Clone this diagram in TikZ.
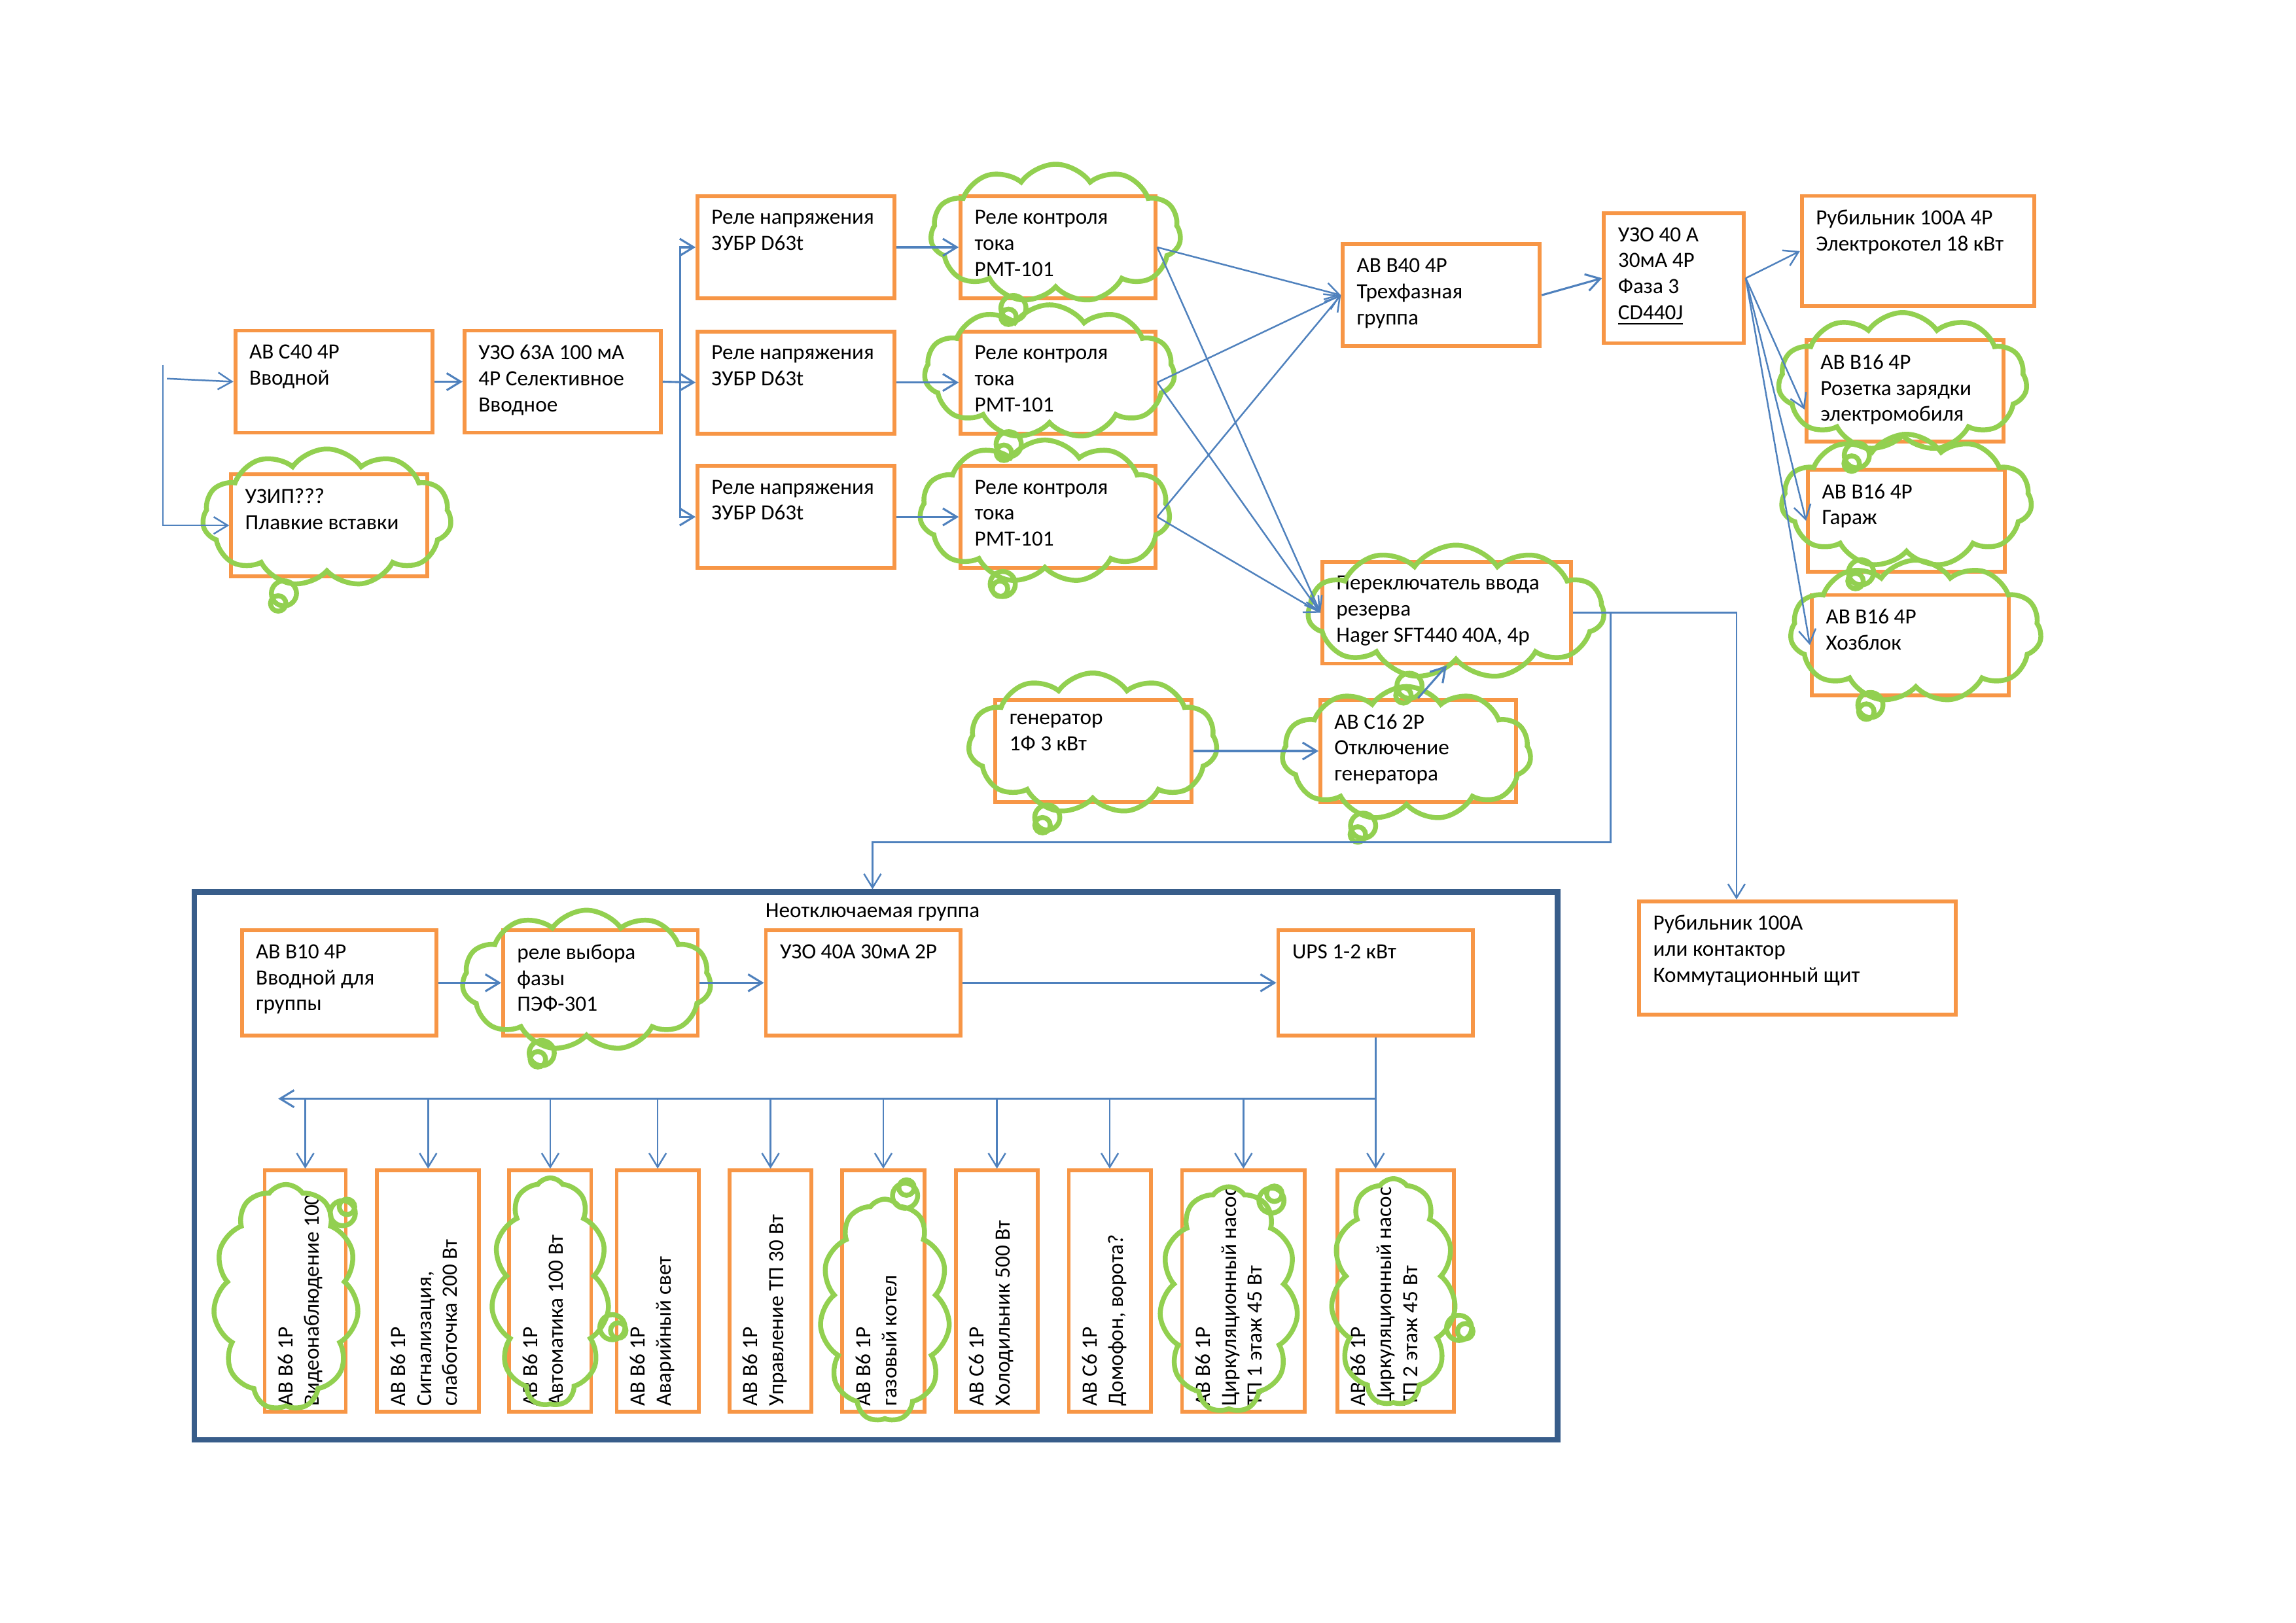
\documentclass[tikz,border=0pt]{standalone}
\usepackage{fontspec}
\setmainfont{Carlito}
\usepackage{tikz}
\usetikzlibrary{shapes,shapes.callouts,arrows.meta,calc,positioning}
\definecolor{boxorange}{HTML}{F79646}
\definecolor{cloudgreen}{HTML}{92D050}
\definecolor{linkblue}{HTML}{4F81BD}
\definecolor{frameblue}{HTML}{385D8A}

\begin{document}
\begin{tikzpicture}[]
	\tikzset{txt/.style={anchor=north west, align=left, inner xsep=0.2cm, inner ysep=0.2cm, execute at begin node={\rule{0pt}{5.2pt}}, font=\fontsize{8}{9.6}\selectfont}}
	\tikzset{tb/.style={label={[txt]north west:{#1}}}}
	\tikzset{rtb/.style={label={[txt, rotate=90, inner xsep=0.09cm, inner ysep=0.19cm]south west:{#1}}}}
	\tikzstyle{box} = [draw=boxorange, line width=1.4pt, minimum width=2.55cm, minimum height=1.32cm]
	\tikzstyle{slot} = [box, minimum width=1.06cm, minimum height=3.12cm]
	\tikzstyle{puff} = [cloud callout, draw=cloudgreen, line width=1.8pt, cloud puffs=11, cloud puff arc=110, cloud ignores aspect, callout pointer segments=2, callout pointer start size=0.45cm, callout pointer end size=0.2cm]
	\tikzstyle{link} = [draw=linkblue, line width=0.75pt, -{Straight Barb[length=1.8mm,width=2.2mm]}]
	\tikzstyle{thin} = [link, line width=0.6pt]
	\useasboundingbox (0,0) rectangle (29.71,-21.0);
		% Input
		\node[box, tb={АВ С40 4Р\\Вводной}] (avc40) at (4.32,-4.94) {};
		\node[box, minimum width=2.54cm, tb={УЗО 63А 100 мА\\4Р Селективное\\Вводное}] (uzo63) at (7.28,-4.94) {};
		\node[box, minimum width=2.54cm, tb={УЗИП???\\Плавкие вставки}] (uzip) at (4.26,-6.80) {};
		% Voltage relays
		\node[box, tb={Реле напряжения\\ЗУБР D63t}] (rn1) at (10.30,-3.20) {};
		\node[box, tb={Реле напряжения\\ЗУБР D63t}] (rn2) at (10.30,-4.95) {};
		\node[box, tb={Реле напряжения\\ЗУБР D63t}] (rn3) at (10.30,-6.69) {};
		% Current relays
		\node[box, minimum width=2.52cm, tb={Реле контроля\\тока\\РМТ-101}] (rk1) at (13.69,-3.20) {};
		\node[box, minimum width=2.52cm, tb={Реле контроля\\тока\\РМТ-101}] (rk2) at (13.69,-4.95) {};
		\node[box, minimum width=2.52cm, tb={Реле контроля\\тока\\РМТ-101}] (rk3) at (13.69,-6.69) {};
		% Three-phase group
		\node[box, tb={АВ В40 4Р\\Трехфазная\\группа}] (avb40) at (18.65,-3.82) {};
		\node[box, minimum width=1.81cm, minimum height=1.68cm, tb={УЗО 40 А\\30мА 4Р\\Фаза 3\\\underline{CD440J}}] (uzo40) at (21.66,-3.60) {};
		\node[box, minimum width=3.01cm, minimum height=1.43cm, tb={Рубильник 100А 4Р\\Электрокотел 18 кВт}] (rub100) at (24.82,-3.25) {};
		\node[box, minimum height=1.31cm, tb={АВ В16 4Р\\Розетка зарядки\\электромобиля}] (avb16a) at (24.65,-5.06) {};
		\node[box, tb={АВ В16 4Р\\Гараж}] (avb16b) at (24.67,-6.74) {};
		\node[box, minimum height=1.30cm, tb={АВ В16 4Р\\Хозблок}] (avb16c) at (24.72,-8.35) {};
		% Reserve
		\node[box, minimum width=3.22cm, tb={Переключатель ввода\\резерва\\Hager SFT440 40A, 4p}] (perekl) at (18.72,-7.93) {};
		\node[box, minimum width=2.54cm, tb={генератор\\1Ф 3 кВт}] (gen) at (14.15,-9.72) {};
		\node[box, minimum width=2.53cm, tb={АВ С16 2Р\\Отключение\\генератора}] (avc16) at (18.35,-9.72) {};
		\node[box, minimum width=4.10cm, minimum height=1.47cm, tb={Рубильник 100А\\или контактор\\Коммутационный щит}] (komm) at (23.26,-12.40) {};
		% Uninterruptible group
		\node[draw=frameblue, line width=2pt, minimum width=17.64cm, minimum height=7.09cm] (grp) at (11.335,-15.09) {};
		\node[font=\fontsize{8}{9.6}\selectfont] (grptitle) at (11.29,-11.81) {Неотключаемая группа};
		\node[box, minimum width=2.52cm, minimum height=1.36cm, tb={АВ В10 4Р\\Вводной для\\группы}] (avb10) at (4.39,-12.72) {};
		\node[box, minimum width=2.52cm, minimum height=1.36cm, tb={реле выбора\\фазы\\ПЭФ-301}] (fazy) at (7.77,-12.72) {};
		\node[box, minimum width=2.52cm, minimum height=1.36cm, tb={УЗО 40А 30мА 2Р}] (uzo2p) at (11.17,-12.72) {};
		\node[box, minimum width=2.52cm, minimum height=1.36cm, tb={UPS 1-2 кВт}] (ups) at (17.80,-12.72) {};
		% Lines
		\node[slot, minimum width=1.05cm, rtb={АВ В6 1Р\\Видеонаблюдение 100}] (b1) at (3.95,-16.71) {};
		\node[slot, minimum width=1.32cm, rtb={АВ В6 1Р\\Сигнализация,\\слаботочка 200 Вт}] (b2) at (5.54,-16.71) {};
		\node[slot, rtb={АВ В6 1Р\\Автоматика 100 Вт}] (b3) at (7.12,-16.71) {};
		\node[slot, rtb={АВ В6 1Р\\Аварийный свет}] (b4) at (8.51,-16.71) {};
		\node[slot, rtb={АВ В6 1Р\\Управление ТП 30 Вт}] (b5) at (9.97,-16.71) {};
		\node[slot, rtb={АВ В6 1Р\\газовый котел}] (b6) at (11.43,-16.71) {};
		\node[slot, rtb={АВ С6 1Р\\Холодильник 500 Вт}] (b7) at (12.90,-16.71) {};
		\node[slot, rtb={АВ С6 1Р\\Домофон, ворота?}] (b8) at (14.36,-16.71) {};
		\node[slot, minimum width=1.59cm, rtb={АВ В6 1Р\\Циркуляционный насос\\ТП 1 этаж 45 Вт}] (b9) at (16.09,-16.71) {};
		\node[slot, minimum width=1.51cm, rtb={АВ В6 1Р\\Циркуляционный насос\\ТП 2 этаж 45 Вт}] (b10) at (18.06,-16.71) {};
		% Clouds
		\node[puff, minimum width=3.22cm, minimum height=1.78cm, callout absolute pointer={(3.60,-7.81)}] (c_uzip) at (4.23,-6.70) {};
		\node[puff, minimum width=3.24cm, minimum height=1.79cm, callout absolute pointer={(13.05,-4.10)}] (c_rk1) at (13.66,-3.02) {};
		\node[puff, minimum width=3.24cm, minimum height=1.73cm, callout absolute pointer={(12.99,-5.86)}] (c_rk2) at (13.58,-4.81) {};
		\node[puff, minimum width=3.24cm, minimum height=1.85cm, callout absolute pointer={(12.94,-7.62)}] (c_rk3) at (13.52,-6.62) {};
		\node[puff, minimum width=3.22cm, minimum height=1.79cm, callout absolute pointer={(23.96,-6.00)}] (c_avb16a) at (24.62,-4.94) {};
		\node[puff, minimum width=3.24cm, minimum height=1.72cm, callout absolute pointer={(24.01,-7.52)}] (c_avb16b) at (24.67,-6.48) {};
		\node[puff, minimum width=3.25cm, minimum height=1.84cm, callout absolute pointer={(24.15,-9.21)}] (c_avb16c) at (24.79,-8.17) {};
		\node[puff, minimum width=3.83cm, minimum height=1.73cm, callout absolute pointer={(18.16,-9.00)}] (c_perekl) at (18.84,-7.92) {};
		\node[puff, minimum width=3.22cm, minimum height=1.82cm, callout absolute pointer={(13.49,-10.68)}] (c_gen) at (14.14,-9.62) {};
		\node[puff, minimum width=3.22cm, minimum height=1.73cm, callout absolute pointer={(17.57,-10.80)}] (c_avc16) at (18.20,-9.75) {};
		\node[puff, minimum width=3.22cm, minimum height=1.82cm, callout absolute pointer={(6.96,-13.71)}] (c_fazy) at (7.59,-12.69) {};
		\node[puff, minimum width=1.88cm, minimum height=2.92cm, callout absolute pointer={(4.49,-15.62)}] (c_b1) at (3.70,-16.79) {};
		\node[puff, minimum width=1.52cm, minimum height=2.95cm, callout absolute pointer={(8.00,-17.22)}] (c_b3) at (7.12,-16.72) {};
		\node[puff, minimum width=1.68cm, minimum height=2.88cm, callout absolute pointer={(11.73,-15.37)}] (c_b6) at (11.45,-16.96) {};
		\node[puff, minimum width=1.79cm, minimum height=2.92cm, callout absolute pointer={(16.49,-15.45)}] (c_b9) at (15.90,-16.82) {};
		\node[puff, minimum width=1.61cm, minimum height=2.93cm, callout absolute pointer={(18.96,-17.23)}] (c_b10) at (18.03,-16.72) {};
		% Connections input
		\coordinate (in0) at (2.11,-4.72);
		\coordinate (in1) at (2.16,-4.90);
		\draw[thin] (in1) -- (avc40.west);
		\draw[thin] (in0) |- (uzip.west);
		\draw[link] (avc40.east) -- (uzo63.west);
		\coordinate (split1) at (8.80,-4.94);
		\draw[link] (uzo63.east) -- (rn2.west);
		\draw[link] (split1) |- (rn1.west);
		\draw[link] (split1) |- (rn3.west);
		\draw[link] (rn1.east) -- (rk1.west);
		\draw[link] (rn2.east) -- (rk2.west);
		\draw[link] (rn3.east) -- (rk3.west);
		\draw[thin] (rk1.east) -- (avb40.west);
		\draw[thin] (rk2.east) -- (avb40.west);
		\draw[thin] (rk3.east) -- (avb40.west);
		\draw[thin] (rk1.east) -- (perekl.west);
		\draw[thin] (rk2.east) -- (perekl.west);
		\draw[thin] (rk3.east) -- (perekl.west);
		% Connections three-phase
		\draw[link] (avb40.east) -- (uzo40.west);
		\draw[thin] (uzo40.east) -- (rub100.west);
		\draw[thin] (uzo40.east) -- ([yshift=-0.24cm]avb16a.west);
		\draw[thin] (uzo40.east) -- (avb16b.west);
		\draw[thin] (uzo40.east) -- (avb16c.west);
		% Connections reserve
		\draw[link] (gen.east) -- (avc16.west);
		\draw[link] (avc16.north) -- (perekl.south);
		\coordinate (j2) at (20.84,-7.93);
		\coordinate (j3) at (11.29,-10.90);
		\draw[thin] (perekl.east) -| ([xshift=-0.79cm]komm.north);
		\draw[thin] (j2) |- (j3) -- (j3 |- grp.north);
		% Connections group
		\draw[link] (avb10.east) -- (fazy.west);
		\draw[link] (fazy.east) -- (uzo2p.west);
		\draw[link] (uzo2p.east) -- (ups.west);
		\coordinate (bus) at (3.60,-14.22);
		\draw[thin] (ups.south) -- (ups.south |- b10.north);
		\draw[link] (ups.south |- bus) -- (bus);
		\draw[thin] (b1.north |- bus) -- (b1.north);
		\draw[thin] (b2.north |- bus) -- (b2.north);
		\draw[thin] (b3.north |- bus) -- (b3.north);
		\draw[thin] (b4.north |- bus) -- (b4.north);
		\draw[thin] (b5.north |- bus) -- (b5.north);
		\draw[thin] (b6.north |- bus) -- (b6.north);
		\draw[thin] (b7.north |- bus) -- (b7.north);
		\draw[thin] (b8.north |- bus) -- (b8.north);
		\draw[thin] (b9.north |- bus) -- (b9.north);
\end{tikzpicture}
\end{document}
